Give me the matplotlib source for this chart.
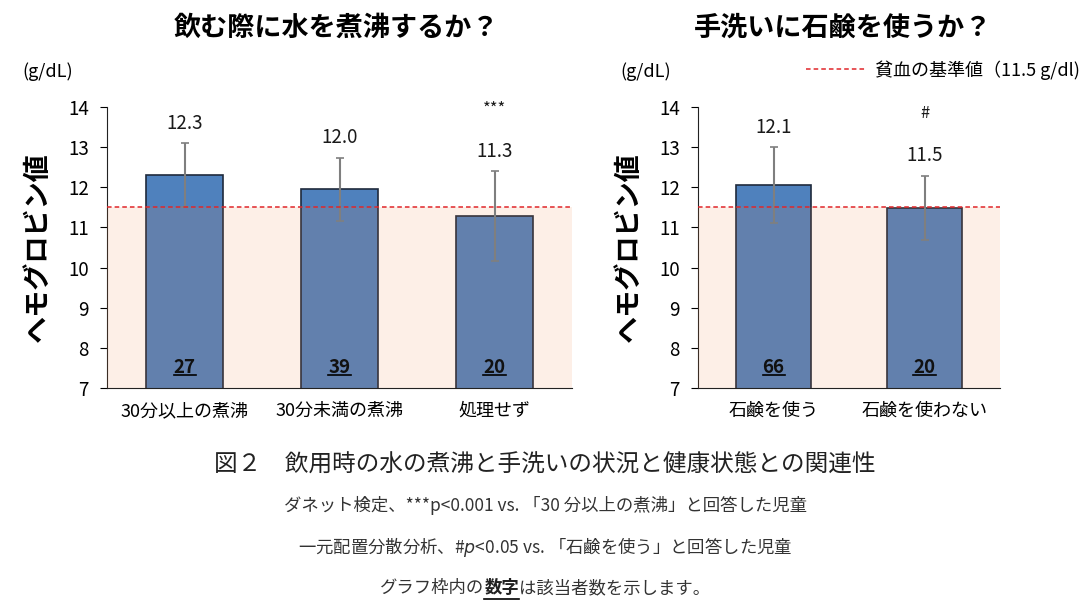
import numpy as np
import matplotlib.pyplot as plt
from matplotlib.lines import Line2D
from matplotlib.transforms import IdentityTransform

plt.rcParams['font.family'] = ['Noto Sans CJK JP', 'DejaVu Sans']

# data
boil_cats = ['30分以上の煮沸', '30分未満の煮沸', '処理せず']
boil_mean = [12.3, 11.95, 11.28]
boil_sd = [0.8, 0.78, 1.12]
boil_label = ['12.3', '12.0', '11.3']
boil_n = [27, 39, 20]
boil_sig = ['', '', '***']

soap_cats = ['石鹸を使う', '石鹸を使わない']
soap_mean = [12.05, 11.48]
soap_sd = [0.95, 0.8]
soap_label = ['12.1', '11.5']
soap_n = [66, 20]
soap_sig = ['', '#']

anemia = 11.5
ymin, ymax = 7, 14

bar_col = '#4F81BD'
edge_col = '#1F2A3C'
shade_col = '#F08040'
red = '#E0262A'

fig = plt.figure(figsize=(10.9, 6.1), dpi=100)

W, H = 1090, 610
ax1 = fig.add_axes([107/W, 1-388/H, (572-107)/W, (388-107)/H])
ax2 = fig.add_axes([698/W, 1-388/H, (1000-698)/W, (388-107)/H])

def draw_panel(ax, cats, mean, sd, labels, ns, sigs):
    x = np.arange(len(cats))
    ax.bar(x, mean, width=0.5, bottom=0, color=bar_col, edgecolor=edge_col,
           linewidth=1.2, zorder=2)
    ax.axhspan(ymin, anemia, color=shade_col, alpha=0.12, lw=0, zorder=3)
    ax.errorbar(x, mean, yerr=sd, fmt='none', ecolor='#7F7F7F', elinewidth=1.5,
                capsize=3, capthick=1.2, zorder=4)
    ax.axhline(anemia, color=red, lw=1.1, ls=(0, (3, 2)), zorder=5)
    ax.set_xlim(-0.5, len(cats) - 0.5)
    ax.set_ylim(ymin, ymax)
    ax.set_yticks(range(ymin, ymax + 1))
    ax.set_xticks(x)
    ax.set_xticklabels(cats, fontsize=13)
    ax.tick_params(axis='x', length=0, pad=10)
    ax.tick_params(axis='y', labelsize=13.5, length=5, direction='out', pad=8)
    for s in ['top', 'right']:
        ax.spines[s].set_visible(False)
    ax.spines['left'].set_color('#222222')
    ax.spines['bottom'].set_color('#222222')
    for i in range(len(cats)):
        top = mean[i] + sd[i]
        ax.text(x[i], top + 0.5, labels[i], ha='center', va='center',
                fontsize=13.5, color='#1a1a1a', zorder=6)
        if sigs[i]:
            ax.text(x[i], top + 1.55, sigs[i], ha='center', va='center',
                    fontsize=12, color='#1a1a1a', zorder=6)
        ax.text(x[i], 7.5, str(ns[i]), ha='center', va='center',
                fontsize=13.5, fontweight='bold', color='#111111', zorder=6)
    ax.set_ylabel('ヘモグロビン値', fontsize=19.5, fontweight='bold', labelpad=12)

draw_panel(ax1, boil_cats, boil_mean, boil_sd, boil_label, boil_n, boil_sig)
draw_panel(ax2, soap_cats, soap_mean, soap_sd, soap_label, soap_n, soap_sig)

fig.text(48/W, 1-72/H, '(g/dL)', ha='center', va='center', fontsize=13)
fig.text(646/W, 1-72/H, '(g/dL)', ha='center', va='center', fontsize=13)

fig.text(336/W, 1-28/H, '飲む際に水を煮沸するか？', ha='center', va='center',
         fontsize=19.5, fontweight='bold')
fig.text(843/W, 1-28/H, '手洗いに石鹸を使うか？', ha='center', va='center',
         fontsize=19.5, fontweight='bold')

leg_h = Line2D([0], [0], color=red, lw=1.1, ls=(0, (3, 2)))
fig.legend([leg_h], ['貧血の基準値（11.5 g/dl)'], loc='center right',
           bbox_to_anchor=(1096/W, 1-70/H), frameon=False, fontsize=13,
           handlelength=3.3, handletextpad=0.5)

fig.text(0.5, 1-465/H, '図２　飲用時の水の煮沸と手洗いの状況と健康状態との関連性',
         ha='center', va='center', fontsize=17, color='#222222')
fig.text(0.5, 1-505/H, 'ダネット検定、***p<0.001 vs. 「30 分以上の煮沸」と回答した児童',
         ha='center', va='center', fontsize=12.5, color='#333333')
fig.text(0.5, 1-547/H, '一元配置分散分析、#$p$<0.05 vs. 「石鹸を使う」と回答した児童',
         ha='center', va='center', fontsize=12.5, color='#333333')

# last line with bold underlined part
parts = ['グラフ枠内の', '数字', 'は該当者数を示します。']
weights = ['normal', 'bold', 'normal']
r = fig.canvas.get_renderer()
tmp = [fig.text(0, 0, p, fontsize=12.5, fontweight=w) for p, w in zip(parts, weights)]
widths = [t.get_window_extent(r).width for t in tmp]
for t in tmp:
    t.remove()
x0 = W/2 - sum(widths)/2
yb = H - 588
for p, w, wd in zip(parts, weights, widths):
    t = fig.text(x0/W, yb/H, p, fontsize=12.5, fontweight=w, va='center',
                 color='#222222' if w == 'bold' else '#333333')
    if w == 'bold':
        fig.add_artist(Line2D([x0, x0 + wd], [yb - 11, yb - 11], color='black', lw=1.2,
                              transform=IdentityTransform()))
    x0 += wd

# underline the counts
fig.canvas.draw()
for ax in (ax1, ax2):
    for t in ax.texts:
        if t.get_fontweight() == 'bold':
            bb = t.get_window_extent(r)
            fig.add_artist(Line2D([bb.x0, bb.x1], [bb.y0 + 2, bb.y0 + 2], color='black',
                                  lw=1.2, transform=IdentityTransform()))

fig.savefig('out.png', dpi=100)
